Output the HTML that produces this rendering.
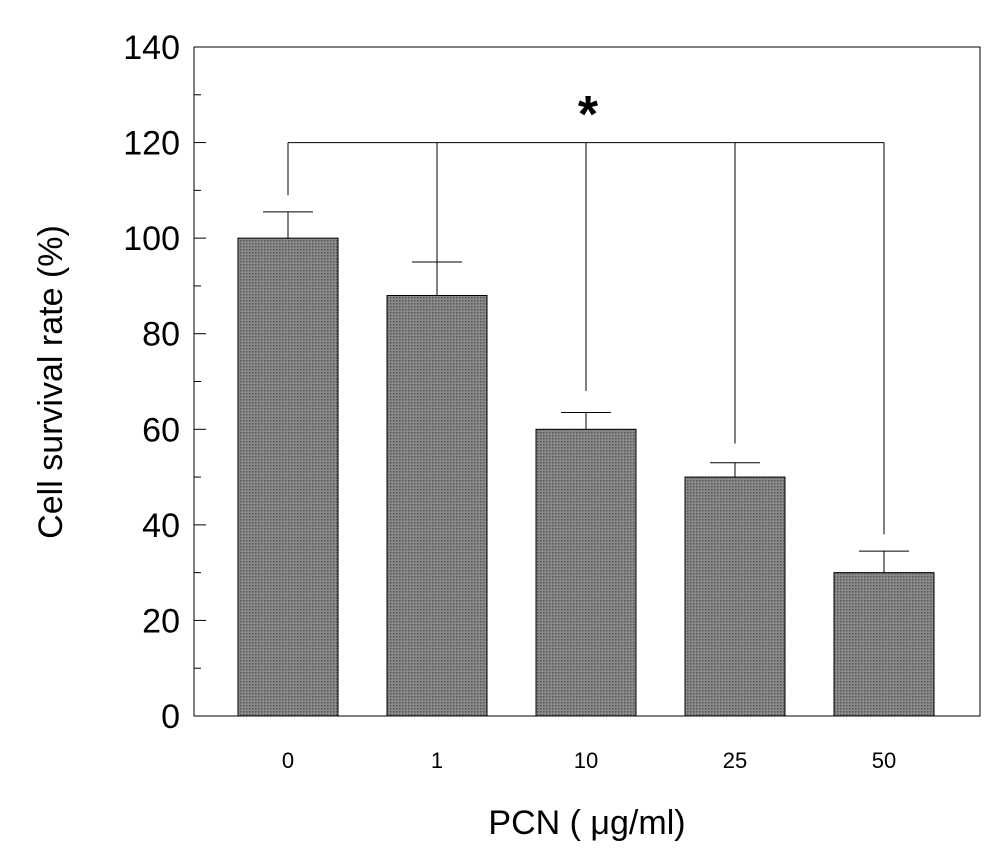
<!DOCTYPE html>
<html><head><meta charset="utf-8"><style>
html,body{margin:0;padding:0;background:#fff;}
svg{display:block;font-family:"Liberation Sans",Arial,sans-serif;}
</style></head><body>
<svg id="chart" width="1000" height="859" viewBox="0 0 1000 859" xmlns="http://www.w3.org/2000/svg">
<defs><pattern id="dots" width="3" height="3" patternUnits="userSpaceOnUse"><rect width="3" height="3" fill="#8a8a8a"/><rect width="1.5" height="1.5" fill="#555"/></pattern></defs>
<g id="g"></g>
</svg>
<script>
const categories = ["0","1","10","25","50"];
const values = [100, 88, 60, 50, 30];
const errors = [5.5, 7, 3.5, 3, 4.5];
const bracketEnds = [109, 95, 68, 57, 38];
const yTicks = [0,20,40,60,80,100,120,140];
const bracketValue = 120;

const L=194,R=980,T=47,B=716,yMax=140;
const y=v=>B-(v/yMax)*(B-T);
const x=i=>288+i*149;
const bw=100;
const NS="http://www.w3.org/2000/svg";
const g=document.getElementById('g');
function mk(tag,attrs,parent){const e=document.createElementNS(NS,tag);for(const k in attrs)e.setAttribute(k,attrs[k]);(parent||g).appendChild(e);return e;}

const frame=mk('rect',{x:L,y:T,width:R-L,height:B-T,fill:'none',stroke:'#000','stroke-width':1});



yTicks.forEach((t,i)=>{
  const tk=mk('line',{x1:L,x2:L+12,y1:y(t),y2:y(t),stroke:'#000'});
  
  
  const lb=mk('text',{x:L-14,y:y(t)+12,'text-anchor':'end','font-size':34,fill:'#000'});
  lb.textContent=t;
  
  
  if(i<yTicks.length-1){
    const m=mk('line',{x1:L,x2:L+7,y1:y(t+10),y2:y(t+10),stroke:'#000'});
    
    
  }
});

categories.forEach((c,i)=>{
  const cx=x(i);
  const el=mk('line',{x1:cx,x2:cx,y1:y(values[i]),y2:y(values[i]+errors[i]),stroke:'#000'});
  
  
  const cap=mk('line',{x1:cx-25,x2:cx+25,y1:y(values[i]+errors[i]),y2:y(values[i]+errors[i]),stroke:'#000'});
  
  
  const b=mk('rect',{x:cx-bw/2,y:y(values[i]),width:bw,height:B-y(values[i]),fill:'url(#dots)',stroke:'#000'});
  
  
  const xl=mk('text',{x:cx,y:768,'text-anchor':'middle','font-size':22,fill:'#000'});
  xl.textContent=c;
  
  
  const d=mk('line',{x1:cx,x2:cx,y1:y(bracketValue),y2:y(bracketEnds[i]),stroke:'#000'});
  
  
});
const br=mk('line',{x1:x(0),x2:x(categories.length-1),y1:y(bracketValue),y2:y(bracketValue),stroke:'#000'});


const st=mk('text',{x:588,y:132,'text-anchor':'middle','font-size':52,'font-weight':'bold',fill:'#000'});
st.textContent='*';



const xt=mk('text',{x:587,y:834,'text-anchor':'middle','font-size':34,fill:'#000'});
xt.textContent='PCN ( \u03bcg/ml)';


const yt=mk('text',{x:0,y:0,'text-anchor':'middle','font-size':34,fill:'#000',transform:'translate(62,382) rotate(-90)'});
yt.textContent='Cell survival rate (%)';


</script>
</body></html>
